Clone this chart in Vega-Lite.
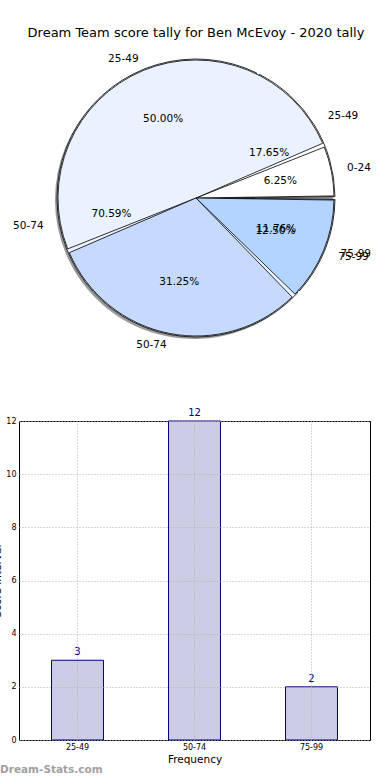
{
  "$schema": "https://vega.github.io/schema/vega-lite/v6.json",
  "autosize": {"type": "none"},
  "params": [{"name": "width", "value": 371}, {"name": "height", "value": 730}],
  "padding": {"left": 19, "top": 50, "right": 0, "bottom": 0},
  "bounds": "flush",
  "spacing": 75,
  "config": {"font": "DejaVu Sans", "view": {"stroke": "#000000", "strokeWidth": 1}},
  "datasets": {
    "pieA": [
      {"k": "0-24", "v": 1, "pct": "6.25%"},
      {"k": "25-49", "v": 8, "pct": "50.00%"},
      {"k": "50-74", "v": 5, "pct": "31.25%"},
      {"k": "75-99", "v": 2, "pct": "12.50%"}
    ],
    "pieB": [
      {"k": "25-49", "v": 3, "pct": "17.65%"},
      {"k": "50-74", "v": 12, "pct": "70.59%"},
      {"k": "75-99", "v": 2, "pct": "11.76%"}
    ],
    "counts": [
      {"k": "25-49", "v": 3},
      {"k": "50-74", "v": 12},
      {"k": "75-99", "v": 2}
    ]
  },
  "vconcat": [
    {
      "width": 354,
      "height": 296,
      "view": {"stroke": null},
      "title": {"text": "Dream Team score tally for Ben McEvoy - 2020 tally", "fontSize": 13, "fontWeight": "normal", "font": "DejaVu Sans", "color": "#000000", "anchor": "middle", "frame": "group", "offset": 10},
      "layer": [
        {
          "data": {"name": "pieA"},
          "mark": {"type": "arc", "radius": 139, "fill": "#555555", "opacity": 0.6, "xOffset": -2, "yOffset": 2},
          "encoding": {
            "theta": {"field": "v", "type": "quantitative", "stack": true, "scale": {"range": [1.5708, -4.7124]}},
            "order": {"field": "k", "sort": "ascending"}
          }
        },
        {
          "data": {"name": "pieB"},
          "mark": {"type": "arc", "radius": 139, "padAngle": 0.02, "stroke": "#000000", "strokeWidth": 0.8},
          "encoding": {
            "theta": {"field": "v", "type": "quantitative", "stack": true, "scale": {"range": [1.5708, -4.7124]}},
            "order": {"field": "k", "sort": "ascending"},
            "color": {"field": "k", "type": "nominal", "scale": {"domain": ["25-49", "50-74", "75-99"], "range": ["#ffffff", "#eaf1ff", "#c6d9ff"]}, "legend": null}
          }
        },
        {
          "data": {"name": "pieA"},
          "mark": {"type": "arc", "radius": 138, "padAngle": 0.03, "stroke": "#000000", "strokeWidth": 0.8},
          "encoding": {
            "theta": {"field": "v", "type": "quantitative", "stack": true, "scale": {"range": [1.5708, -4.7124]}},
            "order": {"field": "k", "sort": "ascending"},
            "color": {"field": "k", "type": "nominal", "scale": {"domain": ["0-24", "25-49", "50-74", "75-99"], "range": ["#ffffff", "#eaf1ff", "#c6d9ff", "#b3d4ff"]}, "legend": null}
          }
        },
        {
          "data": {"name": "pieB"},
          "mark": {"type": "text", "radius": 155, "fontSize": 10.5, "color": "#000000", "align": "left", "baseline": "middle"},
          "encoding": {
            "theta": {"field": "v", "type": "quantitative", "stack": true, "scale": {"range": [1.5708, -4.7124]}},
            "order": {"field": "k", "sort": "ascending"},
            "text": {"condition": {"test": "datum.k === '25-49' || datum.k === '75-99'", "field": "k"}, "value": ""}
          }
        },
        {
          "data": {"name": "pieB"},
          "mark": {"type": "text", "radius": 155, "fontSize": 10.5, "color": "#000000", "align": "right", "baseline": "middle"},
          "encoding": {
            "theta": {"field": "v", "type": "quantitative", "stack": true, "scale": {"range": [1.5708, -4.7124]}},
            "order": {"field": "k", "sort": "ascending"},
            "text": {"condition": {"test": "datum.k === '50-74'", "field": "k"}, "value": ""}
          }
        },
        {
          "data": {"name": "pieB"},
          "mark": {"type": "text", "radius": 86, "fontSize": 10.5, "color": "#000000"},
          "encoding": {
            "theta": {"field": "v", "type": "quantitative", "stack": true, "scale": {"range": [1.5708, -4.7124]}},
            "order": {"field": "k", "sort": "ascending"},
            "text": {"field": "pct"}
          }
        },
        {
          "data": {"name": "pieA"},
          "mark": {"type": "text", "radius": 154, "fontSize": 10.5, "color": "#000000", "align": "left", "baseline": "middle"},
          "encoding": {
            "theta": {"field": "v", "type": "quantitative", "stack": true, "scale": {"range": [1.5708, -4.7124]}},
            "order": {"field": "k", "sort": "ascending"},
            "text": {"condition": {"test": "datum.k === '0-24' || datum.k === '75-99'", "field": "k"}, "value": ""}
          }
        },
        {
          "data": {"name": "pieA"},
          "mark": {"type": "text", "radius": 150, "fontSize": 10.5, "color": "#000000", "align": "right", "baseline": "middle"},
          "encoding": {
            "theta": {"field": "v", "type": "quantitative", "stack": true, "scale": {"range": [1.5708, -4.7124]}},
            "order": {"field": "k", "sort": "ascending"},
            "text": {"condition": {"test": "datum.k === '25-49' || datum.k === '50-74'", "field": "k"}, "value": ""}
          }
        },
        {
          "data": {"name": "pieA"},
          "mark": {"type": "text", "radius": 86, "fontSize": 10.5, "color": "#000000"},
          "encoding": {
            "theta": {"field": "v", "type": "quantitative", "stack": true, "scale": {"range": [1.5708, -4.7124]}},
            "order": {"field": "k", "sort": "ascending"},
            "text": {"field": "pct"}
          }
        }
      ],
      "resolve": {"scale": {"theta": "independent", "color": "independent"}}
    },
    {
      "width": 351,
      "height": 319,
      "data": {"name": "counts"},
      "title": {"text": "Dream-Stats.com", "orient": "bottom", "anchor": "start", "frame": "group", "dx": -19, "offset": 0, "fontSize": 10.5, "fontWeight": "bold", "font": "DejaVu Sans", "color": "#a0a0a0"},
      "encoding": {
        "x": {
          "field": "k", "type": "nominal", "sort": ["25-49", "50-74", "75-99"],
          "scale": {"paddingInner": 0.556, "paddingOuter": 0.278},
          "axis": {"title": "Frequency", "titleFontSize": 10.5, "titleFontWeight": "normal", "titleColor": "#000000", "titlePadding": 3, "labelAngle": 0, "labelFontSize": 8, "labelColor": "#000000", "labelPadding": 3, "ticks": false, "domain": false, "grid": true, "gridColor": "#b0b0b0", "gridDash": [1, 2], "zindex": 1}
        },
        "y": {
          "field": "v", "type": "quantitative",
          "scale": {"domain": [0, 12], "nice": false},
          "axis": {"title": "Score interval", "titleFontSize": 10.5, "titleFontWeight": "normal", "titleColor": "#000000", "titlePadding": 3, "values": [0, 2, 4, 6, 8, 10, 12], "labelFontSize": 8, "labelColor": "#000000", "labelPadding": 3, "ticks": false, "domain": false, "grid": true, "gridColor": "#b0b0b0", "gridDash": [1, 2], "zindex": 1}
        }
      },
      "layer": [
        {"mark": {"type": "bar", "fill": "#ccccE5", "stroke": "#000080", "strokeWidth": 1}},
        {"mark": {"type": "text", "color": "#000080", "fontSize": 10, "baseline": "bottom", "dy": -3}, "encoding": {"text": {"field": "v"}}}
      ]
    }
  ]
}
